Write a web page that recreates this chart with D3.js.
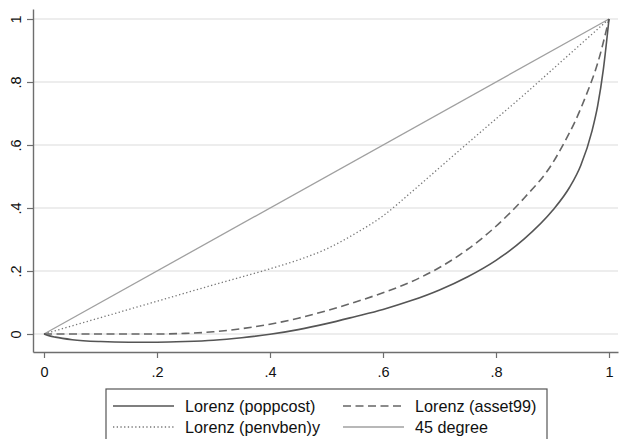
<!DOCTYPE html>
<html>
<head>
<meta charset="utf-8">
<script src="https://cdn.jsdelivr.net/npm/d3@7"></script>
<style>
  body { margin: 0; background: #fff; }
  svg { display: block; font-family: "Liberation Sans", Arial, Helvetica, sans-serif; }
</style>
</head>
<body>
<svg id="chart" width="620" height="439"></svg>
<script>
// ---- data ----
var xTicks = [0, 0.2, 0.4, 0.6, 0.8, 1];
var yTicks = [0, 0.2, 0.4, 0.6, 0.8, 1];

// [share of population, cumulative share]
var poppcost = [[0,0],[0.01,-0.006],[0.02,-0.01],[0.05,-0.018],[0.1,-0.024],[0.15,-0.026],[0.2,-0.026],
  [0.25,-0.024],[0.3,-0.02],[0.35,-0.012],[0.4,-0.001],[0.45,0.014],[0.5,0.033],[0.55,0.055],[0.6,0.078],
  [0.65,0.106],[0.7,0.14],[0.75,0.182],[0.8,0.234],[0.85,0.302],[0.9,0.392],[0.93,0.465],[0.95,0.535],
  [0.97,0.645],[0.98,0.725],[0.99,0.84],[1,1]];
var asset99 = [[0,0],[0.1,0],[0.2,0],[0.25,0.002],[0.3,0.007],[0.35,0.017],[0.4,0.031],[0.45,0.05],
  [0.5,0.074],[0.55,0.101],[0.6,0.131],[0.65,0.166],[0.7,0.211],[0.75,0.269],[0.8,0.342],[0.85,0.432],
  [0.9,0.542],[0.92,0.605],[0.94,0.675],[0.96,0.76],[0.98,0.86],[1,1]];
var penvben = [[0,0],[0.1,0.052],[0.2,0.104],[0.3,0.156],[0.4,0.207],[0.45,0.235],[0.5,0.27],
  [0.55,0.318],[0.6,0.375],[0.65,0.45],[0.7,0.528],[0.75,0.606],[0.8,0.683],[0.85,0.76],
  [0.9,0.84],[0.95,0.92],[1,1]];
var degree45 = [[0,0],[1,1]];

var seriesNames = ["Lorenz (poppcost)", "Lorenz (asset99)", "Lorenz (penvben)y", "45 degree"];

// ---- layout ----
var svg = d3.select("#chart");

var x = d3.scaleLinear().domain([0, 1]).range([44, 609]);
var y = d3.scaleLinear().domain([0, 1]).range([334, 19]);

// axis scales span the whole plot region (a bit beyond 0..1)
var xAx = x.copy().domain([x.invert(33), x.invert(618)]).range([33, 618]);
var yAx = y.copy().domain([y.invert(352), y.invert(9)]).range([352, 9]);

function fmt(d) {
    if (d === 0) return "0";
    if (d === 1) return "1";
    return String(d).replace(/^0/, "");
}

// gridlines
svg.append("g")
    .selectAll("line")
    .data(yTicks)
    .enter()
    .append("line")
    .attr("x1", 33)
    .attr("x2", 618)
    .attr("y1", d => y(d))
    .attr("y2", d => y(d))
    .style("stroke", "#dcdcdc")
    .style("stroke-width", 1.2);

// lines
var line = d3.line()
    .x(d => x(d[0]))
    .y(d => y(d[1]))
    .curve(d3.curveMonotoneX);

svg.append("path")
    .datum(degree45)
    .attr("d", d3.line().x(d => x(d[0])).y(d => y(d[1])))
    .style("fill", "none")
    .style("stroke", "#a0a0a0")
    .style("stroke-width", 1.3);

svg.append("path")
    .datum(penvben)
    .attr("d", line)
    .style("fill", "none")
    .style("stroke", "#777")
    .style("stroke-width", 1.3)
    .style("stroke-dasharray", "1.3,2.4");

svg.append("path")
    .datum(asset99)
    .attr("d", line)
    .style("fill", "none")
    .style("stroke", "#666")
    .style("stroke-width", 1.6)
    .style("stroke-dasharray", "8,4.5");

svg.append("path")
    .datum(poppcost)
    .attr("d", line)
    .style("fill", "none")
    .style("stroke", "#555")
    .style("stroke-width", 1.6);

// x axis
svg.append("g")
    .attr("transform", "translate(0,352)")
    .call(d3.axisBottom(xAx).tickValues(xTicks).tickFormat(fmt).tickSize(6).tickSizeOuter(0))
    .call(g => g.select(".domain").style("stroke", "#6e6e6e").style("stroke-width", 1.4))
    .call(g => g.selectAll(".tick line").style("stroke", "#6e6e6e").style("stroke-width", 1.2))
    .call(g => g.selectAll(".tick text")
        .attr("y", 15)
        .attr("dy", "0.71em")
        .style("font-size", "14.5px")
        .style("font-family", "Liberation Sans, Arial, sans-serif")
        .style("fill", "#111"));

// y axis
svg.append("g")
    .attr("transform", "translate(33,0)")
    .call(d3.axisLeft(yAx).tickValues(yTicks).tickFormat(fmt).tickSize(6).tickSizeOuter(0))
    .call(g => g.select(".domain").style("stroke", "#6e6e6e").style("stroke-width", 1.4))
    .call(g => g.selectAll(".tick line").style("stroke", "#6e6e6e").style("stroke-width", 1.2))
    .call(g => g.selectAll(".tick text")
        .attr("x", null)
        .attr("dy", null)
        .attr("transform", "translate(-12,0) rotate(-90)")
        .attr("text-anchor", "middle")
        .style("font-size", "14.5px")
        .style("font-family", "Liberation Sans, Arial, sans-serif")
        .style("fill", "#111"));

// legend
var legend = svg.append("g");
legend.append("rect")
    .attr("x", 106)
    .attr("y", 389)
    .attr("width", 441)
    .attr("height", 70)
    .style("fill", "#fff")
    .style("stroke", "#555")
    .style("stroke-width", 1.2);

var legendItems = [
    { name: seriesNames[0], col: 0, row: 0, stroke: "#555", dash: null, w: 1.6 },
    { name: seriesNames[1], col: 1, row: 0, stroke: "#666", dash: "8,4.5", w: 1.6 },
    { name: seriesNames[2], col: 0, row: 1, stroke: "#777", dash: "1.3,2.4", w: 1.3 },
    { name: seriesNames[3], col: 1, row: 1, stroke: "#a0a0a0", dash: null, w: 1.3 }
];
var colX = [113, 343];
var rowY = [406, 427];

legend.selectAll(".key")
    .data(legendItems)
    .enter()
    .append("line")
    .attr("x1", d => colX[d.col])
    .attr("x2", d => colX[d.col] + 61)
    .attr("y1", d => rowY[d.row])
    .attr("y2", d => rowY[d.row])
    .style("stroke", d => d.stroke)
    .style("stroke-width", d => d.w)
    .style("stroke-dasharray", d => d.dash);

legend.selectAll(".lab")
    .data(legendItems)
    .enter()
    .append("text")
    .attr("x", d => colX[d.col] + 72)
    .attr("y", d => rowY[d.row] + 6)
    .style("font-size", "16.2px")
    .style("fill", "#111")
    .text(d => d.name);
</script>
</body>
</html>
